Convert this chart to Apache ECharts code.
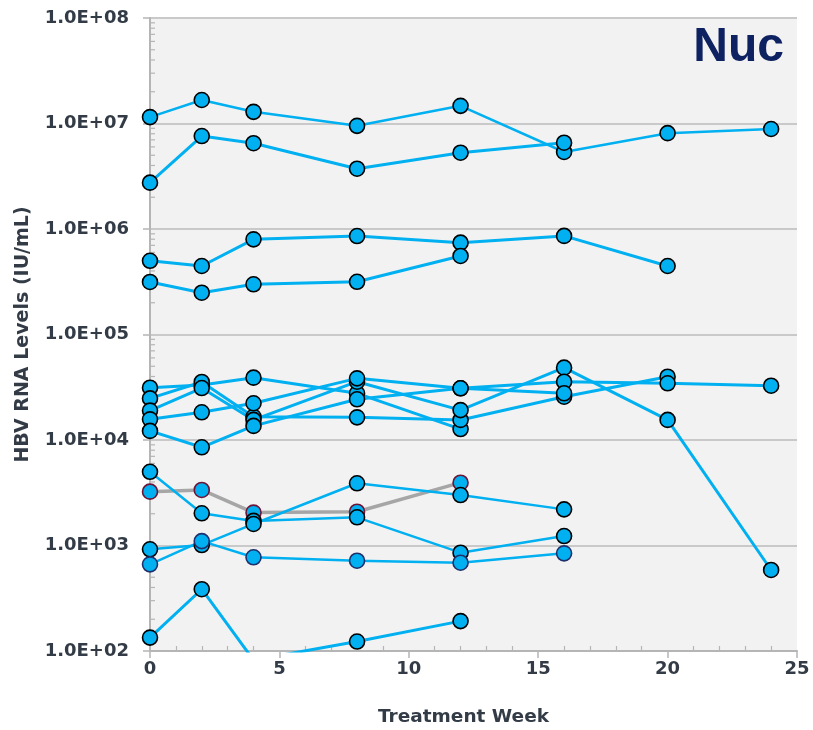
<!DOCTYPE html>
<html><head><meta charset="utf-8">
<script src="https://cdn.jsdelivr.net/npm/echarts@6/dist/echarts.min.js"></script>
<style>html,body{margin:0;padding:0;background:#fff}#c{width:813px;height:730px}</style>
</head><body><div id="c"></div>
<script>
// ---- axis data ----
const xTicks = [0, 5, 10, 15, 20, 25];
const yDecades = [1e2, 1e3, 1e4, 1e5, 1e6, 1e7, 1e8];
const yTickLabels = ['1.0E+02','1.0E+03','1.0E+04','1.0E+05','1.0E+06','1.0E+07','1.0E+08'];
const minorMantissas = [2,3,4,5,6,7,8,9];

// ---- series data (treatment week, HBV RNA IU/mL) ----
const weeksA = [0, 2, 4, 8, 12, 16, 20, 24];
const rnaA   = [1.15e7, 1.67e7, 1.29e7, 9.5e6, 1.47e7, 5.37e6, 8.1e6, 8.87e6];
const weeksB = [0, 2, 4, 8, 12, 16];
const rnaB   = [2.75e6, 7.6e6, 6.5e6, 3.73e6, 5.29e6, 6.58e6];
const weeksC = [0, 2, 4, 8, 12, 16, 20];
const rnaC   = [5.0e5, 4.46e5, 7.98e5, 8.58e5, 7.42e5, 8.6e5, 4.46e5];
const weeksD = [0, 2, 4, 8, 12];
const rnaD   = [3.15e5, 2.49e5, 2.99e5, 3.16e5, 5.55e5];

const weeksS1 = [0, 2, 4, 8, 12];
const rnaS1   = [3.13e4, 3.32e4, 3.90e4, 2.77e4, 1.27e4];
const weeksS2 = [0, 2, 4, 8, 12, 16, 20];
const rnaS2   = [2.48e4, 3.55e4, 1.66e4, 1.64e4, 1.55e4, 2.57e4, 3.98e4];
const weeksS3 = [0, 2, 4, 8, 12, 16, 20, 24];
const rnaS3   = [1.90e4, 3.11e4, 1.55e4, 3.57e4, 1.92e4, 4.85e4, 1.55e4, 586];
const weeksS4 = [0, 2, 4, 8, 12, 16, 20, 24];
const rnaS4   = [1.57e4, 1.83e4, 2.23e4, 3.84e4, 3.09e4, 3.57e4, 3.45e4, 3.27e4];
const weeksS5 = [0, 2, 4, 8, 12, 16];
const rnaS5   = [1.22e4, 8.53e3, 1.36e4, 2.43e4, 3.09e4, 2.77e4];

const weeksE = [0, 2, 4, 8, 12, 16];
const rnaE   = [5.0e3, 2.02e3, 1.71e3, 1.85e3, 855, 1.23e3];
const weeksF = [0, 2, 4, 8, 12, 16];
const rnaF   = [920, 1.01e3, 1.60e3, 3.89e3, 3.01e3, 2.20e3];
const weeksG = [0, 2, 4, 8, 12, 16];
const rnaG   = [663, 1.10e3, 773, 718, 687, 843];
const weeksH = [0, 2, 4, 8, 12];
const rnaH   = [3.24e3, 3.36e3, 2.05e3, 2.09e3, 3.94e3];
const weeksI = [0, 2, 4, 8, 12];
const rnaI   = [134, 385, 82, 123, 192];

const BLUE = '#00b0f0';
const defs = [
  {w: weeksH, v: rnaH, line: '#a6a6a6', border: '#6d1538', lw: 3.5},
  {w: weeksA, v: rnaA, line: BLUE, border: '#000', lw: 2.5},
  {w: weeksB, v: rnaB, line: BLUE, border: '#000', lw: 3},
  {w: weeksC, v: rnaC, line: BLUE, border: '#000', lw: 3},
  {w: weeksD, v: rnaD, line: BLUE, border: '#000', lw: 3},
  {w: weeksS1, v: rnaS1, line: BLUE, border: '#000', lw: 3},
  {w: weeksS2, v: rnaS2, line: BLUE, border: '#000', lw: 3},
  {w: weeksS3, v: rnaS3, line: BLUE, border: '#000', lw: 3},
  {w: weeksS4, v: rnaS4, line: BLUE, border: '#000', lw: 3},
  {w: weeksS5, v: rnaS5, line: BLUE, border: '#000', lw: 3},
  {w: weeksE, v: rnaE, line: BLUE, border: '#000', lw: 2.5},
  {w: weeksF, v: rnaF, line: BLUE, border: '#000', lw: 2.5},
  {w: weeksG, v: rnaG, line: BLUE, border: '#1f2f6b', lw: 2.5},
  {w: weeksI, v: rnaI, line: BLUE, border: '#000', lw: 3}
];

const pairs = d => d.w.map((x, i) => [x, d.v[i]]);
const series = [];
// y-axis minor ticks (log spaced), drawn through the axis scale
const yMinor = [];
for (let k = 0; k < yDecades.length - 1; k++) minorMantissas.forEach(m => yMinor.push([0, m * yDecades[k]]));
series.push({
  type: 'custom', silent: true, clip: false, z: 1, data: yMinor,
  renderItem: (params, api) => {
    const p = api.coord([api.value(0), api.value(1)]);
    return {type: 'line', shape: {x1: p[0], y1: p[1], x2: p[0] + 5, y2: p[1]},
            style: {stroke: '#b5b5b5', lineWidth: 1.2}};
  }
});
defs.forEach(d => {
  series.push({type: 'line', data: pairs(d), showSymbol: false, z: 2, silent: true,
    lineStyle: {color: d.line, width: d.lw}, animation: false});
});
defs.forEach(d => {
  series.push({type: 'scatter', data: pairs(d), symbol: 'circle', symbolSize: 15, z: 5, silent: true,
    itemStyle: {color: BLUE, borderColor: d.border, borderWidth: 1.6, opacity: 1}, animation: false});
});

const FONT = 'DejaVu Sans';
const TXT = '#333c46';
const chart = echarts.init(document.getElementById('c'), null, {renderer: 'canvas'});
chart.setOption({
  animation: false,
  backgroundColor: '#ffffff',
  title: {text: 'Nuc', right: 24, top: 19,
    textStyle: {fontFamily: 'Liberation Sans', fontWeight: 'bold', fontSize: 48, color: '#0e2161'}},
  grid: {left: 150, right: 16, top: 18, bottom: 79, show: true, backgroundColor: '#f2f2f2', borderWidth: 0,
    containLabel: false, outerBoundsMode: 'none'},
  xAxis: [{
    type: 'value', min: xTicks[0], max: xTicks[xTicks.length - 1], interval: 5,
    name: 'Treatment Week', nameLocation: 'middle', nameGap: 57,
    nameTextStyle: {fontFamily: FONT, fontWeight: 'bold', fontSize: 18.5, color: TXT, padding: [0, 20, 0, 0]},
    axisLine: {show: true, lineStyle: {color: '#b5b5b5', width: 2}},
    axisTick: {show: true, inside: false, length: 7, lineStyle: {color: '#b5b5b5', width: 1.5}},
    axisLabel: {fontFamily: FONT, fontWeight: 'bold', fontSize: 18, color: TXT, margin: 9},
    splitLine: {show: false}
  }, {
    type: 'value', min: xTicks[0], max: xTicks[xTicks.length - 1], interval: 5, position: 'bottom',
    axisLine: {show: false}, axisTick: {show: false, inside: true}, axisLabel: {show: false},
    splitLine: {show: false},
    minorTick: {show: true, splitNumber: 5, length: 5, lineStyle: {color: '#b5b5b5', width: 1.2}}
  }],
  yAxis: {
    type: 'log', logBase: 10, min: yDecades[0], max: yDecades[yDecades.length - 1], splitNumber: 6,
    name: 'HBV RNA Levels (IU/mL)', nameLocation: 'middle', nameGap: 117,
    nameTextStyle: {fontFamily: FONT, fontWeight: 'bold', fontSize: 19, color: TXT},
    axisLine: {show: true, lineStyle: {color: '#b5b5b5', width: 2}},
    axisTick: {show: true, inside: false, length: 7, lineStyle: {color: '#b5b5b5', width: 1.5}},
    axisLabel: {fontFamily: FONT, fontWeight: 'bold', fontSize: 18, color: TXT, margin: 21,
      formatter: v => { const i = yDecades.findIndex(d => Math.abs(Math.log10(d) - Math.log10(v)) < 1e-6); return i >= 0 ? yTickLabels[i] : ''; }},
    splitLine: {show: true, lineStyle: {color: '#c9c9c9', width: 2}}
  },
  series: series
});
</script></body></html>
